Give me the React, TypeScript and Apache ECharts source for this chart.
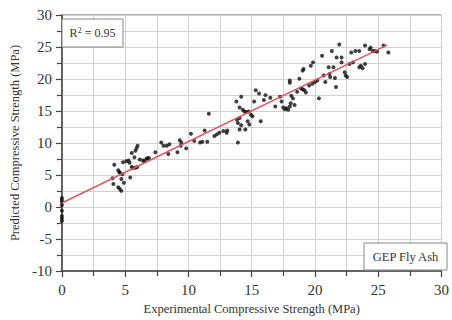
import React, { useEffect, useRef } from "react";
import * as echarts from "echarts";

const experimental: number[] = [
  0, 0, 0, 0, 0, 0, 0, 0,
  4.07, 4.0, 4.14, 4.45, 4.58, 4.7, 4.53, 4.78, 4.7, 4.89, 4.83, 5.09, 5.27, 4.45, 5.4, 5.6, 5.81, 5.96,
  6.5, 6.68, 5.52, 5.81, 5.98, 5.9, 5.73, 6.16, 6.88, 5.52, 5.35, 4.58, 6.42, 6.75,
  7.39, 7.85, 8.03, 8.29, 8.5, 8.41, 9.13, 9.31, 9.44, 9.39, 9.82, 10.2, 10.46, 10.92, 11.1, 11.49,
  11.28, 11.61, 12.05, 12.25, 12.45, 12.76, 13.02, 13.07, 13.79, 14.04, 13.91, 14.04, 13.91, 13.84,
  14.17, 14.04, 14.3, 14.43, 14.56, 14.76, 14.94, 15.06, 14.68, 14.81, 14.17, 14.5, 15.19, 15.32,
  15.58, 15.71, 15.96, 16.09, 16.47, 16.86, 17.24, 17.36, 17.49, 17.62, 17.75, 17.88, 18.01, 18.08,
  18.13, 18.26, 18.39, 18.01, 18.01, 18.59, 18.77, 18.9, 19.03, 19.16, 19.28, 19.54, 19.8, 20.0,
  20.18, 20.31, 19.03, 19.1, 19.67, 19.85, 20.56, 20.69, 20.82, 21.08, 21.15, 21.2, 21.46, 21.58,
  21.66, 21.33, 21.71, 21.92, 22.1, 22.1, 22.35, 22.43, 22.54, 22.73, 22.87, 23.0, 23.2, 23.5, 23.5,
  23.63, 23.76, 23.96, 23.96, 24.32, 24.4, 24.58, 24.73, 24.91, 25.42, 25.8,
];

const predicted: number[] = [
  1.4, 1.1, 0.8, 0.3, -0.6, -1.4, -1.8, -2.2,
  3.6, 4.5, 6.6, 3.07, 2.82, 2.52, 5.48, 5.12, 4.36, 3.79, 7.0, 7.16, 7.27, 5.74, 4.6, 6.09, 6.14, 6.24,
  7.16, 7.52, 8.44, 8.8, 9.57, 9.2, 7.78, 7.42, 7.67, 6.24, 6.9, 5.37, 7.27, 7.62,
  8.54, 10.08, 9.57, 9.57, 9.8, 8.29, 8.54, 10.43, 10.08, 9.57, 9.16, 11.45, 10.33, 10.08, 10.18, 10.18,
  11.96, 14.57, 11.1, 11.35, 11.6, 11.87, 11.6, 11.96, 16.47, 13.9, 13.14, 12.11, 10.08, 13.65,
  17.23, 15.55, 15.18, 14.93, 14.83, 14.93, 14.42, 14.17, 13.4, 12.88, 12.79, 12.11, 16.47, 18.25,
  17.74, 13.4, 16.72, 17.48, 17.07, 15.7, 17.23, 16.47, 15.55, 15.29, 15.44, 15.18, 15.7, 16.21,
  17.38, 16.97, 15.95, 19.78, 19.4, 18.0, 20.04, 18.51, 18.4, 18.25, 17.89, 19.0, 19.27, 19.53,
  19.78, 16.97, 21.31, 21.57, 22.08, 22.6, 23.62, 20.55, 19.53, 21.83, 20.8, 20.3, 21.83, 20.14,
  18.76, 24.38, 23.36, 25.4, 23.36, 22.6, 21.06, 20.55, 20.3, 22.34, 24.13, 22.6, 24.38, 24.38, 21.83,
  22.08, 21.68, 22.34, 25.25, 24.64, 24.9, 24.38, 24.38, 24.28, 25.25, 24.13,
];

const fitX: number[] = [0, 25.7];
const fitY: number[] = [0.62, 25.3];

const xTitle = "Experimental Compressive Strength (MPa)";
const yTitle = "Predicted Compressive Strength (MPa)";
const r2Label = "0.95";
const seriesLabel = "GEP Fly Ash";

const FONT = "'Liberation Serif', 'Times New Roman', serif";

export default function App() {
  const ref = useRef<HTMLDivElement>(null);

  useEffect(() => {
    if (!ref.current) return;
    const chart = echarts.init(ref.current, undefined, { renderer: "svg" });
    const points = experimental.map((x, i) => [x, predicted[i]]);
    const line = fitX.map((x, i) => [x, fitY[i]]);

    const axisCommon = {
      axisLine: { show: true, onZero: false, lineStyle: { color: "#444", width: 1.5 } },
      axisTick: { show: true, inside: false, length: 6, lineStyle: { color: "#444", width: 1.2 } },
      minorTick: { show: true, splitNumber: 2, length: 5, lineStyle: { color: "#444", width: 1.2 } },
      splitLine: { show: true, lineStyle: { color: "#d0d0d0", width: 1 } },
      minorSplitLine: { show: true, lineStyle: { color: "#d0d0d0", width: 1 } },
      nameTextStyle: { fontFamily: FONT, fontSize: 12.5, color: "#333" },
    };

    chart.setOption({
      animation: false,
      backgroundColor: "#ffffff",
      grid: {
        left: 57,
        right: 4,
        top: 15,
        bottom: 44,
        show: true,
        borderColor: "#666",
        borderWidth: 1,
        backgroundColor: "transparent",
      },
      xAxis: {
        type: "value",
        min: 0,
        max: 30,
        interval: 5,
        name: xTitle,
        nameLocation: "middle",
        nameGap: 31,
        axisLabel: { fontFamily: FONT, fontSize: 15, color: "#333", margin: 11 },
        ...axisCommon,
      },
      yAxis: {
        type: "value",
        min: -10,
        max: 30,
        interval: 5,
        name: yTitle,
        nameLocation: "middle",
        nameGap: 36,
        axisLabel: { fontFamily: FONT, fontSize: 15, color: "#333", margin: 10 },
        ...axisCommon,
      },
      series: [
        {
          type: "scatter",
          data: points,
          symbol: "circle",
          symbolSize: 4,
          itemStyle: { color: "#111" },
          z: 3,
        },
        {
          type: "line",
          data: line,
          showSymbol: false,
          symbol: "none",
          lineStyle: { color: "#e0565b", width: 1.5 },
          z: 4,
        },
      ],
      graphic: [
        {
          type: "rect",
          shape: { x: 62, y: 19, width: 61, height: 28 },
          style: { fill: "#fff", stroke: "#888", lineWidth: 1 },
          z: 10,
        },
        {
          type: "text",
          x: 92.5,
          y: 33,
          style: {
            text: "R{sup|2} = " + r2Label,
            rich: {
              sup: { fontSize: 8, verticalAlign: "top", fontFamily: FONT, fill: "#333", padding: [0, 0, 5, 0] },
            },
            fontFamily: FONT,
            fontSize: 12,
            fill: "#333",
            align: "center",
            verticalAlign: "middle",
          },
          z: 11,
        },
        {
          type: "rect",
          shape: { x: 364, y: 243, width: 83, height: 27 },
          style: { fill: "#fff", stroke: "#888", lineWidth: 1 },
          z: 10,
        },
        {
          type: "text",
          x: 405.5,
          y: 256.5,
          style: {
            text: seriesLabel,
            fontFamily: FONT,
            fontSize: 12.5,
            fill: "#333",
            align: "center",
            verticalAlign: "middle",
          },
          z: 11,
        },
      ],
    });
    return () => chart.dispose();
  }, []);

  return (
    <div
      ref={ref}
      style={{ position: "fixed", left: 0, top: 0, width: 452, height: 320, background: "#fff" }}
    />
  );
}
